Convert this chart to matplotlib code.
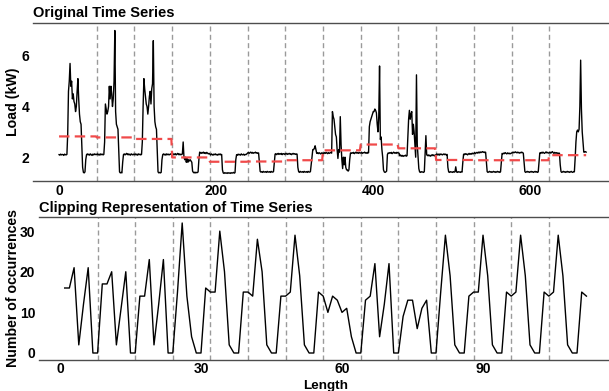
import matplotlib
matplotlib.use("Agg")
import matplotlib.pyplot as plt
import numpy as np

plt.rcParams['font.family'] = ['Liberation Sans', 'DejaVu Sans']
plt.rcParams['font.weight'] = 'bold'
plt.rcParams['lines.scale_dashes'] = False

# half-hourly load, 14 days x 48 readings
load = [
    # day 1
    2.10, 2.08, 2.12, 2.09, 2.11, 2.10, 2.07, 2.12, 2.10, 2.09, 2.11, 2.90,
    4.60, 5.00, 5.70, 4.80, 5.00, 4.30, 4.50, 4.20, 4.10, 3.80, 4.00, 4.60,
    5.10, 4.30, 3.70, 3.40, 3.30, 2.40, 1.60, 1.40, 1.38, 1.42, 1.90, 2.10,
    2.13, 2.09, 2.12, 2.08, 2.13, 2.10, 2.07, 2.12, 2.09, 2.13, 2.10, 2.12,
    # day 2
    2.10, 2.13, 2.09, 2.12, 2.08, 2.13, 2.10, 2.12, 2.09, 2.11, 2.60, 4.10,
    3.90, 3.70, 3.80, 4.00, 4.80, 4.30, 4.80, 4.50, 4.00, 4.30, 5.00, 7.00,
    3.80, 3.30, 3.20, 3.10, 2.20, 1.42, 1.38, 1.40, 1.38, 1.80, 2.10, 2.13,
    2.09, 2.12, 2.15, 2.10, 2.13, 2.09, 2.12, 2.08, 2.13, 2.11, 2.09, 2.12,
    # day 3
    2.10, 2.13, 2.09, 2.12, 2.08, 2.13, 2.10, 2.12, 2.09, 2.11, 2.60, 4.00,
    5.10, 4.70, 4.40, 4.10, 4.00, 3.70, 4.00, 4.40, 4.60, 4.10, 4.70, 4.90,
    6.60, 4.00, 3.40, 3.20, 3.10, 2.20, 1.42, 1.38, 1.40, 1.38, 1.40, 1.90,
    2.10, 2.13, 2.09, 2.12, 2.08, 2.13, 2.10, 2.12, 2.09, 2.11, 2.13, 2.10,
    # day 4
    2.12, 2.09, 2.13, 2.10, 2.14, 2.09, 2.12, 2.15, 2.10, 2.13, 2.09, 2.12,
    2.10, 2.13, 2.60, 2.00, 1.90, 2.00, 1.80, 1.95, 1.80, 1.90, 1.85, 1.90,
    1.85, 1.80, 1.45, 1.40, 1.38, 1.41, 1.38, 1.40, 1.39, 1.42, 1.90, 2.20,
    2.18, 2.15, 2.19, 2.16, 2.20, 2.15, 2.18, 2.14, 2.19, 2.16, 2.13, 2.15,
    # day 5
    2.12, 2.09, 2.13, 2.10, 2.08, 2.12, 2.10, 2.13, 2.09, 2.11, 2.08, 2.12,
    2.10, 2.13, 2.09, 2.11, 1.50, 1.38, 1.36, 1.39, 1.37, 1.38, 1.36, 1.39,
    1.37, 1.38, 1.36, 1.39, 1.37, 1.38, 1.40, 1.37, 1.39, 1.90, 2.10, 2.08,
    2.12, 2.09, 2.11, 2.08, 2.13, 2.10, 2.09, 2.12, 2.08, 2.11, 2.10, 2.13,
    # day 6
    2.16, 2.19, 2.15, 2.18, 2.20, 2.16, 2.19, 2.15, 2.18, 2.17, 2.20, 2.16,
    2.18, 2.15, 2.17, 1.80, 1.44, 1.41, 1.43, 1.40, 1.44, 1.42, 1.41, 1.43,
    1.40, 1.44, 1.42, 1.41, 1.43, 1.40, 1.44, 1.42, 1.41, 1.43, 1.80, 2.12,
    2.14, 2.10, 2.13, 2.15, 2.11, 2.14, 2.12, 2.15, 2.10, 2.13, 2.14, 2.11,
    # day 7
    2.14, 2.12, 2.15, 2.11, 2.13, 2.15, 2.12, 2.14, 2.10, 2.13, 2.15, 2.12,
    2.14, 2.11, 2.13, 2.12, 1.60, 1.43, 1.40, 1.44, 1.42, 1.41, 1.43, 1.40,
    1.44, 1.42, 1.41, 1.43, 1.40, 1.44, 1.42, 1.41, 1.43, 1.70, 2.00, 2.30,
    2.30, 2.35, 2.45, 2.30, 2.15, 2.17, 2.14, 2.18, 2.15, 2.13, 2.17, 2.15,
    # day 8
    2.17, 2.14, 2.18, 2.15, 2.19, 2.16, 2.14, 2.18, 2.15, 2.17, 2.19, 2.16,
    3.80, 3.60, 3.50, 3.20, 2.90, 2.80, 2.30, 1.95, 2.30, 2.20, 3.60, 2.50,
    1.90, 1.55, 2.00, 1.70, 2.00, 1.60, 1.50, 1.50, 1.45, 1.50, 1.90, 2.17,
    2.15, 2.18, 2.16, 2.19, 2.14, 2.17, 2.20, 2.16, 2.18, 2.15, 2.19, 2.17,
    # day 9
    2.16, 2.19, 2.15, 2.18, 2.17, 2.20, 2.16, 2.18, 2.15, 2.19, 2.17, 3.20,
    3.40, 3.50, 3.60, 3.70, 3.80, 3.80, 3.90, 3.85, 3.75, 3.30, 3.00, 3.60,
    5.60, 2.70, 2.80, 2.30, 2.00, 1.50, 1.42, 1.40, 1.42, 1.45, 2.10, 2.17,
    2.15, 2.18, 2.16, 2.19, 2.14, 2.17, 2.20, 2.16, 2.18, 2.15, 2.19, 2.17,
    # day 10
    2.17, 2.15, 2.05, 2.08, 2.04, 2.07, 2.03, 2.06, 2.05, 2.08, 2.04, 2.06,
    2.80, 3.50, 3.85, 3.50, 3.70, 3.80, 2.90, 3.30, 3.00, 2.50, 2.00, 5.25,
    2.50, 2.00, 1.55, 1.42, 1.40, 1.43, 1.41, 1.42, 1.40, 1.43, 2.10, 2.85,
    2.10, 2.06, 2.09, 2.05, 2.08, 2.04, 2.07, 2.10, 2.06, 2.09, 2.05, 2.08,
    # day 11
    2.10, 2.13, 2.09, 2.12, 2.08, 2.13, 2.10, 2.12, 2.09, 2.11, 2.13, 2.10,
    2.12, 2.09, 2.11, 1.60, 1.42, 1.40, 1.43, 1.41, 1.42, 1.40, 1.43, 1.41,
    1.42, 1.62, 1.42, 1.40, 1.43, 1.41, 1.42, 1.40, 1.43, 1.41, 1.80, 2.12,
    2.10, 2.14, 2.11, 2.13, 2.09, 2.12, 2.15, 2.11, 2.14, 2.12, 2.16, 2.13,
    # day 12
    2.15, 2.18, 2.14, 2.17, 2.19, 2.16, 2.20, 2.17, 2.21, 2.18, 2.20, 2.22,
    2.19, 2.21, 2.18, 2.20, 1.80, 1.43, 1.40, 1.42, 1.44, 1.41, 1.43, 1.40,
    1.42, 1.44, 1.41, 1.43, 1.40, 1.42, 1.44, 1.41, 1.43, 1.40, 1.42, 1.80,
    2.15, 2.13, 2.16, 2.14, 2.18, 2.15, 2.13, 2.17, 2.14, 2.16, 2.13, 2.15,
    # day 13
    2.16, 2.19, 2.17, 2.20, 2.18, 2.21, 2.19, 2.17, 2.20, 2.18, 2.16, 2.19,
    2.17, 2.20, 2.18, 2.16, 1.80, 1.43, 1.40, 1.42, 1.44, 1.41, 1.43, 1.40,
    1.42, 1.44, 1.41, 1.43, 1.40, 1.42, 1.44, 1.41, 1.43, 1.40, 1.42, 1.80,
    2.17, 2.15, 2.19, 2.16, 2.20, 2.17, 2.15, 2.18, 2.21, 2.17, 2.19, 2.16,
    # day 14
    2.17, 2.20, 2.16, 2.19, 2.22, 2.18, 2.15, 2.19, 2.16, 2.18, 2.15, 2.17,
    2.14, 2.16, 1.70, 1.43, 1.40, 1.42, 1.44, 1.41, 1.43, 1.40, 1.42, 1.44,
    1.41, 1.43, 1.40, 1.42, 1.44, 1.41, 1.40, 1.43, 1.42, 1.95, 2.60, 3.00,
    3.07, 3.00, 3.10, 4.00, 5.83, 3.90, 3.00, 2.60, 2.20, 2.20, 2.22, 2.20,
]

# red dashed segment level for each day
day_means = [2.82, 2.78, 2.72, 1.99, 1.82, 1.83, 1.88,
             2.27, 2.50, 2.35, 1.89, 1.88, 1.88, 2.08]
day_len = 48

# clipping representation, 14 segments x 8 values
clip_counts = [
    16, 16, 21, 2, 12, 21, 0, 0,
    17, 17, 20, 2, 11, 20, 0, 0,
    14, 14, 23, 2, 12, 23, 0, 0,
    15, 32, 14, 4, 0, 0, 16, 15,
    15, 30, 20, 2, 0, 0, 15, 15,
    14, 28, 20, 2, 0, 0, 14, 14,
    15, 29, 19, 2, 0, 0, 15, 14,
    10, 14, 13, 10, 11, 4, 0, 0,
    13, 14, 22, 4, 12, 22, 0, 0,
    9, 13, 13, 6, 11, 13, 0, 0,
    15, 29, 19, 2, 0, 0, 14, 15,
    15, 29, 19, 2, 0, 0, 15, 14,
    15, 29, 19, 2, 0, 0, 15, 14,
    15, 29, 19, 2, 0, 0, 15, 14,
]
seg_len = 8

top_xticks = [0, 200, 400, 600]
top_yticks = [2, 4, 6]
bot_xticks = [0, 30, 60, 90]
bot_yticks = [0, 10, 20, 30]

W, H = 609, 391
fig = plt.figure(figsize=(W / 100, H / 100), dpi=100)

def box(l, r, t, b):
    return [l / W, 1 - b / H, (r - l) / W, (b - t) / H]

ax1 = fig.add_axes(box(32.7, 612.5, 22.9, 180.5))
ax2 = fig.add_axes(box(38.6, 612.5, 216.5, 359.5))

grid_kw = dict(color='#9a9a9a', lw=1.0, dashes=(3.6, 2.4), zorder=1)

# top panel
x = np.arange(len(load))
n_days = len(day_means)
for k in range(1, n_days):
    ax1.axvline(k * day_len, **grid_kw)
ax1.plot(x, load, color='black', lw=1.0, zorder=3)
ax1.plot(np.arange(n_days * day_len), np.repeat(day_means, day_len),
         color='#f04a4a', lw=1.6, dashes=(7.5, 3.8), zorder=4)
ax1.set_xlim(-33.55, 704.55)
ax1.set_ylim(1.08, 7.3)
ax1.set_xticks(top_xticks)
ax1.set_yticks(top_yticks)

# bottom panel
xc = np.arange(1, len(clip_counts) + 1)
for k in range(1, len(clip_counts) // seg_len):
    ax2.axvline(k * seg_len, **grid_kw)
ax2.plot(xc, clip_counts, color='black', lw=1.0, zorder=3)
ax2.set_xlim(-4.55, 117.55)
ax2.set_ylim(-1.6, 33.6)
ax2.set_xticks(bot_xticks)
ax2.set_yticks(bot_yticks)

for ax in (ax1, ax2):
    for s in ('left', 'right'):
        ax.spines[s].set_visible(False)
    for s in ('top', 'bottom'):
        ax.spines[s].set_color('#4d4d4d')
        ax.spines[s].set_linewidth(1.0)
    ax.tick_params(length=0, labelsize=10, labelcolor='black', pad=2.5)
    for lab in ax.get_xticklabels() + ax.get_yticklabels():
        lab.set_fontweight('bold')
ax2.tick_params(axis='x', pad=1.5)

fig.text(33 / W, 1 - 17 / H, 'Original Time Series', fontsize=10.5,
         fontweight='bold', va='baseline', ha='left')
fig.text(39 / W, 1 - 211.5 / H, 'Clipping Representation of Time Series',
         fontsize=10.5, fontweight='bold', va='baseline', ha='left')
fig.text(13 / W, 1 - 101.5 / H, 'Load (kW)', fontsize=10.2, fontweight='bold',
         rotation=90, va='center', ha='center')
fig.text(13 / W, 1 - 288 / H, 'Number of occurrences', fontsize=10.2,
         fontweight='bold', rotation=90, va='center', ha='center')
fig.text(325.5 / W, 1 - 388.5 / H, 'Length', fontsize=9.7, fontweight='bold',
         va='baseline', ha='center')

fig.savefig('out.png', dpi=100)
